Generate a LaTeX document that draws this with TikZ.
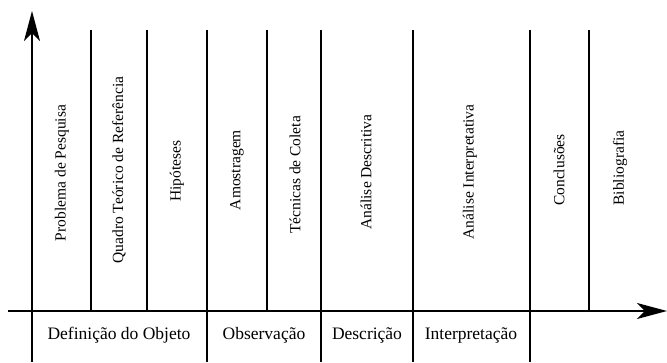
\documentclass[tikz,border=0pt]{standalone}
\usepackage{fontspec}
\setmainfont{Liberation Serif}
\usetikzlibrary{arrows.meta}
\begin{document}
\begin{tikzpicture}[x=1pt,y=1pt,
  ln/.style={line width=1.1pt},
  ax/.style={line width=1.3pt,-{Stealth[length=30pt,width=16pt,inset=8pt]}},
  vlab/.style={rotate=90,font=\fontsize{15.5}{17}\selectfont,inner sep=0pt},
  hlab/.style={font=\fontsize{17.5}{19}\selectfont,inner sep=0pt}]
\useasboundingbox (0,0) rectangle (667,362);
% axes
\coordinate (o) at (32,51);
\coordinate (ybot) at (32,0);
\coordinate (ytop) at (32,351);
\coordinate (xl) at (8,51);
\coordinate (xr) at (667,51);
\draw[ax] (ybot) -- (ytop);
\draw[ax] (xl) -- (xr);
% full-height separators (above and below axis)
\foreach \x/\n in {207/a,321/b,413/c,530/d}{
  \coordinate (t\n) at (\x,332);
  \coordinate (b\n) at (\x,0);
  \draw[ln] (t\n) -- (b\n);
}
% upper-only separators
\foreach \x/\n in {91/e,147/f,267/g,589/h}{
  \coordinate (t\n) at (\x,332);
  \coordinate (m\n) at (\x,51);
  \draw[ln] (t\n) -- (m\n);
}
% vertical labels
\node[vlab] (l1) at (62,189) {Problema de Pesquisa};
\node[vlab] (l2) at (119,192) {Quadro Teórico de Referência};
\node[vlab] (l3) at (177,191) {Hipóteses};
\node[vlab] (l4) at (237,192) {Amostragem};
\node[vlab] (l5) at (295,187) {Técnicas de Coleta};
\node[vlab] (l6) at (366,190) {Análise Descritiva};
\node[vlab] (l7) at (470,190) {Análise Interpretativa};
\node[vlab] (l8) at (559,192) {Conclusões};
\node[vlab] (l9) at (620,194) {Bibliografia};
% horizontal labels
\node[hlab] (h1) at (119,27) {Definição do Objeto};
\node[hlab] (h2) at (264,27) {Observação};
\node[hlab] (h3) at (367,27) {Descrição};
\node[hlab] (h4) at (471,27) {Interpretação};
\end{tikzpicture}
\end{document}
